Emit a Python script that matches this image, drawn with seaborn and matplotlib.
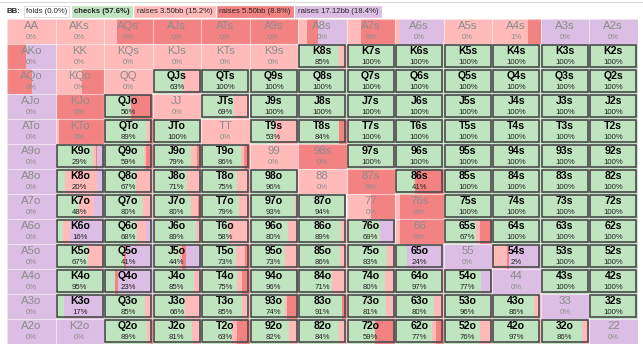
import numpy as np
import pandas as pd
import seaborn as sns
import matplotlib.pyplot as plt
from matplotlib.patches import Rectangle

sns.set_theme(style="white")
plt.rcParams['font.family'] = ['Liberation Sans', 'DejaVu Sans']

RANKS = list("AKQJT98765432")

# displayed check percentage (label under hand)
check_label = [
    [0, 0, 0, 0, 0, 0, 0, 0, 0, 0, 1, 0, 0],
    [0, 0, 0, 0, 0, 0, 85, 100, 100, 100, 100, 100, 100],
    [0, 0, 0, 63, 100, 100, 100, 100, 100, 100, 100, 100, 100],
    [0, 0, 56, 0, 69, 100, 100, 100, 100, 100, 100, 100, 100],
    [0, 0, 89, 100, 0, 53, 84, 100, 100, 100, 100, 100, 100],
    [0, 29, 59, 79, 86, 0, 0, 100, 100, 100, 100, 100, 100],
    [0, 20, 67, 71, 75, 96, 0, 0, 41, 100, 100, 100, 100],
    [0, 48, 80, 80, 79, 93, 94, 0, 0, 100, 100, 100, 100],
    [0, 16, 68, 89, 58, 80, 89, 69, 0, 67, 100, 100, 100],
    [0, 67, 41, 44, 73, 73, 86, 83, 24, 0, 2, 100, 100],
    [0, 95, 23, 85, 75, 96, 71, 80, 97, 77, 0, 100, 100],
    [0, 17, 85, 66, 85, 74, 91, 81, 80, 96, 86, 0, 100],
    [0, 0, 89, 81, 63, 82, 84, 59, 77, 76, 97, 86, 0],
]

# bar segment shares per cell
checks = [
    [0, 0, 0, 0, 0, 0, 0, 0, 0, 0, 0, 0, 0],
    [0, 0, 0, 0, 0, 0, 85, 100, 100, 100, 100, 100, 100],
    [0, 0, 0, 63, 100, 100, 100, 100, 100, 100, 100, 100, 100],
    [0, 0, 56, 0, 69, 100, 100, 100, 100, 100, 100, 100, 100],
    [0, 0, 89, 100, 0, 53, 84, 100, 100, 100, 100, 100, 100],
    [0, 78, 82, 79, 82, 0, 0, 100, 100, 100, 100, 100, 100],
    [0, 20, 67, 71, 75, 96, 0, 0, 41, 100, 100, 100, 100],
    [0, 48, 80, 80, 79, 93, 94, 0, 0, 100, 100, 100, 100],
    [0, 16, 68, 89, 58, 80, 89, 69, 0, 67, 100, 100, 100],
    [0, 67, 41, 56, 73, 73, 86, 83, 24, 0, 2, 100, 100],
    [0, 95, 23, 85, 75, 96, 71, 80, 97, 77, 0, 100, 100],
    [0, 17, 85, 66, 85, 74, 91, 81, 80, 96, 86, 0, 100],
    [0, 0, 89, 81, 63, 82, 84, 59, 77, 76, 97, 86, 0],
]
raise_350 = [
    [100, 100, 26, 0, 0, 0, 18, 30, 10, 100, 75, 0, 0],
    [0, 100, 100, 100, 100, 100, 15, 0, 0, 0, 0, 0, 0],
    [0, 55, 100, 37, 0, 0, 0, 0, 0, 0, 0, 0, 0],
    [0, 3, 0, 100, 31, 0, 0, 0, 0, 0, 0, 0, 0],
    [0, 7, 6, 0, 100, 47, 0, 0, 0, 0, 0, 0, 0],
    [0, 5, 4, 12, 6, 100, 0, 0, 0, 0, 0, 0, 0],
    [0, 66, 33, 29, 25, 4, 100, 3, 0, 0, 0, 0, 0],
    [0, 32, 20, 14, 21, 7, 0, 50, 10, 0, 0, 0, 0],
    [0, 14, 18, 11, 42, 20, 11, 0, 10, 8, 0, 0, 0],
    [0, 33, 0, 5, 18, 27, 14, 17, 0, 0, 28, 0, 0],
    [0, 0, 0, 15, 10, 0, 29, 20, 3, 0, 0, 0, 0],
    [0, 0, 15, 34, 15, 4, 0, 19, 20, 4, 14, 0, 0],
    [0, 0, 7, 19, 12, 18, 16, 0, 8, 24, 3, 14, 0],
]
raise_550 = [
    [0, 0, 74, 100, 100, 100, 24, 70, 0, 0, 25, 0, 0],
    [39, 0, 0, 0, 0, 0, 0, 0, 0, 0, 0, 0, 0],
    [51, 45, 0, 0, 0, 0, 0, 0, 0, 0, 0, 0, 0],
    [0, 97, 44, 0, 0, 0, 0, 0, 0, 0, 0, 0, 0],
    [0, 93, 5, 0, 0, 0, 16, 0, 0, 0, 0, 0, 0],
    [0, 2, 14, 9, 12, 0, 100, 0, 0, 0, 0, 0, 0],
    [0, 0, 0, 0, 0, 0, 0, 97, 59, 0, 0, 0, 0],
    [0, 0, 0, 6, 0, 0, 6, 50, 90, 0, 0, 0, 0],
    [0, 0, 0, 0, 0, 0, 0, 0, 90, 25, 0, 0, 0],
    [0, 0, 5, 8, 9, 0, 0, 0, 0, 0, 5, 0, 0],
    [0, 0, 6, 0, 15, 4, 0, 0, 0, 0, 0, 0, 0],
    [0, 0, 0, 0, 0, 22, 9, 0, 0, 0, 0, 0, 0],
    [0, 0, 4, 0, 25, 0, 0, 41, 15, 0, 0, 0, 0],
]
raise_1712 = [
    [0, 0, 0, 0, 0, 0, 58, 0, 90, 0, 0, 100, 100],
    [61, 0, 0, 0, 0, 0, 0, 0, 0, 0, 0, 0, 0],
    [49, 0, 0, 0, 0, 0, 0, 0, 0, 0, 0, 0, 0],
    [100, 0, 0, 0, 0, 0, 0, 0, 0, 0, 0, 0, 0],
    [100, 0, 0, 0, 0, 0, 0, 0, 0, 0, 0, 0, 0],
    [100, 15, 0, 0, 0, 0, 0, 0, 0, 0, 0, 0, 0],
    [100, 14, 0, 0, 0, 0, 0, 0, 0, 0, 0, 0, 0],
    [100, 20, 0, 0, 0, 0, 0, 0, 0, 0, 0, 0, 0],
    [100, 70, 14, 0, 0, 0, 0, 31, 0, 0, 0, 0, 0],
    [100, 0, 54, 31, 0, 0, 0, 0, 76, 100, 65, 0, 0],
    [100, 5, 71, 0, 0, 0, 0, 0, 0, 23, 100, 0, 0],
    [100, 83, 0, 0, 0, 0, 0, 0, 0, 0, 0, 100, 0],
    [100, 100, 0, 0, 0, 0, 0, 0, 0, 0, 0, 0, 100],
]

legend_labels = ["folds (0.0%)", "checks (57.6%)", "raises 3.50bb (15.2%)",
                 "raises 5.50bb (8.8%)", "raises 17.12bb (18.4%)"]

C_GREEN, C_PINK, C_RED, C_PURPLE = "#c0e4c0", "#ffbaba", "#f38383", "#dcbde3"

def hand(r, c):
    if r == c:
        return RANKS[r] + RANKS[c]
    if c > r:
        return RANKS[r] + RANKS[c] + "s"
    return RANKS[c] + RANKS[r] + "o"

rows = []
for r in range(13):
    for c in range(13):
        rows.append(dict(row=r, col=c, hand=hand(r, c), label=check_label[r][c],
                         checks=checks[r][c], r350=raise_350[r][c],
                         r550=raise_550[r][c], r1712=raise_1712[r][c]))
df = pd.DataFrame(rows)

W, H = 643, 346
fig = plt.figure(figsize=(W / 100, H / 100), dpi=100)
fig.patch.set_facecolor("white")
ax = fig.add_axes([7 / W, 1 - 343.5 / H, 630.5 / W, 325 / H])

# base grid via seaborn heatmap (white)
base = df.pivot(index="row", columns="col", values="label") * 0
sns.heatmap(base, ax=ax, cmap=["#ffffff"], cbar=False, linewidths=0)
ax.set_xlim(0, 13)
ax.set_ylim(13, 0)
ax.axis("off")

segs = [("checks", C_GREEN), ("r350", C_PINK), ("r550", C_RED), ("r1712", C_PURPLE)]
for _, d in df.iterrows():
    left = d["col"]
    for key, colr in segs:
        w = d[key] / 100.0
        if w > 0:
            ax.barh(d["row"] + 0.5, w, left=left, height=1.0, color=colr,
                    linewidth=0, align="center", zorder=1)
            left += w

# faint separators
for k in range(14):
    ax.axvline(k, color="white", lw=0.8, alpha=0.55, zorder=2)
    ax.axhline(k, color="white", lw=0.8, alpha=0.55, zorder=2)

px_x = 1 / 48.5
px_y = 1 / 25.0
for _, d in df.iterrows():
    r, c = d["row"], d["col"]
    active = d["checks"] > 0
    if active:
        ax.add_patch(Rectangle((c + 1.2 * px_x, r + 1.2 * px_y), 1 - 2.4 * px_x, 1 - 2.4 * px_y,
                               fill=False, edgecolor="#4a4a4a", lw=1.2, zorder=3))
        ax.text(c + 0.5, r + 0.31, d["hand"], ha="center", va="center",
                fontsize=7.6, fontweight="bold", color="black", zorder=4)
        ax.text(c + 0.5, r + 0.76, f"{d['label']}%", ha="center", va="center",
                fontsize=5.6, color="#222222", zorder=4)
    else:
        ax.text(c + 0.5, r + 0.31, d["hand"], ha="center", va="center",
                fontsize=8.2, color="#8c8c8c", zorder=4)
        ax.text(c + 0.5, r + 0.76, f"{d['label']}%", ha="center", va="center",
                fontsize=5.6, color="#8c8c8c", zorder=4)

# legend header, chained left to right
ly = 1 - 11.5 / H
renderer = fig.canvas.get_renderer()
t = fig.text(6 / W, ly, "BB:", fontsize=5.6, fontweight="bold", va="center", ha="left")
x_px = t.get_window_extent(renderer).x1 + 4
leg_bg = ["#ffffff", C_GREEN, C_PINK, C_RED, C_PURPLE]
for i, (lab, bg) in enumerate(zip(legend_labels, leg_bg)):
    t = fig.text((x_px + 2) / W, ly, lab, fontsize=5.6, va="center", ha="left",
                 fontweight="bold" if i == 1 else "normal",
                 bbox=dict(boxstyle="square,pad=0.3", facecolor=bg,
                           edgecolor="#d0d0d0" if i == 0 else bg, lw=0.5))
    x_px = t.get_window_extent(renderer).x1 + 5

# thin top frame line of the panel
fig.add_artist(plt.Line2D([0, 1], [1 - 1.5 / H, 1 - 1.5 / H], color="#d9d9d9", lw=0.8))

fig.savefig("out.png", dpi=100, facecolor="white")
